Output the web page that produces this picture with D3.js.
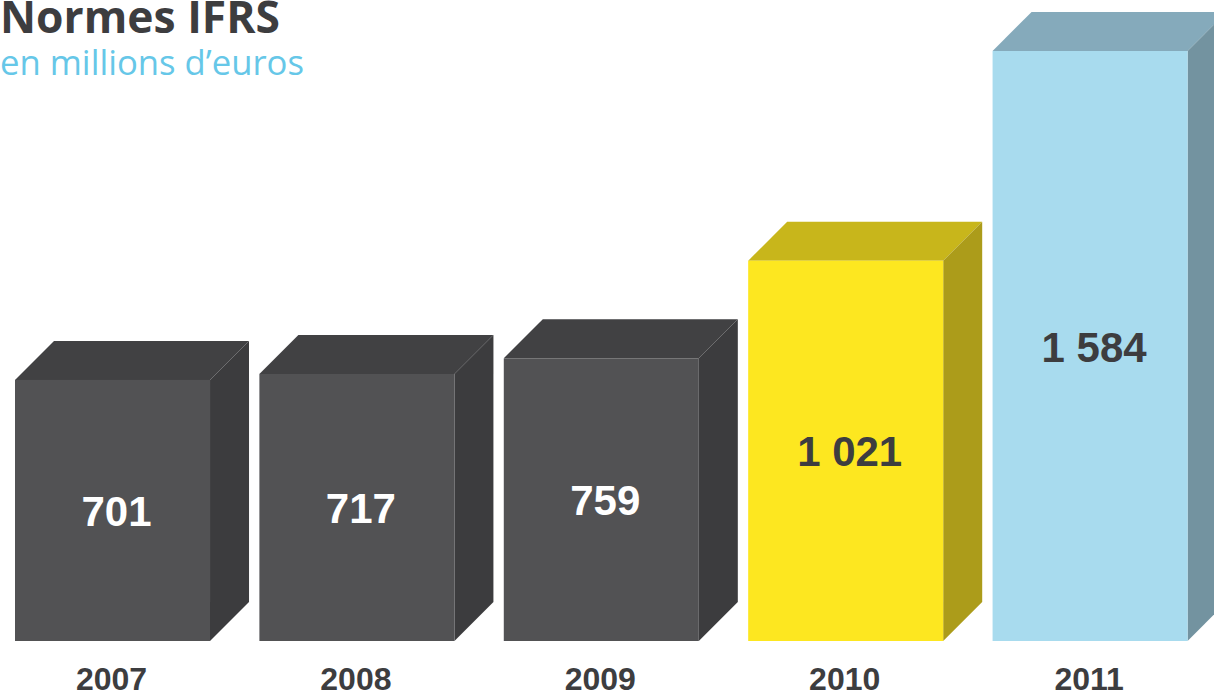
<!DOCTYPE html>
<html>
<head>
<meta charset="utf-8">
<title>Normes IFRS</title>
<script src="https://cdn.jsdelivr.net/npm/d3@7"></script>
<style>
html, body { margin: 0; padding: 0; background: #fff; overflow: hidden; }
svg { display: block; }
.value, .axis text { font-family: "Liberation Sans", sans-serif; font-weight: bold; }
</style>
</head>
<body>
<div id="chart"></div>
<script>
var years = ["2007", "2008", "2009", "2010", "2011"];
var values = [701, 717, 759, 1021, 1584];
var valueLabels = ["701", "717", "759", "1 021", "1 584"];

// front, top and side shade of each box
var fronts = ["#525254", "#525254", "#525254", "#fde720", "#a8dbee"];
var tops = ["#414143", "#414143", "#414143", "#c8b61b", "#85aabb"];
var sides = ["#3c3c3e", "#3c3c3e", "#3c3c3e", "#ac9c1a", "#7393a0"];
var labelColours = ["#ffffff", "#ffffff", "#ffffff", "#3d3d3f", "#3d3d3f"];

var width = 1214, height = 692;
var baseline = 641, depth = 39;

var svg = d3.select("#chart").append("svg")
	.attr("width", width)
	.attr("height", height);

var x = d3.scaleBand()
	.domain(years)
	.range([15, 1187.6])
	.paddingInner(0.202)
	.paddingOuter(0);

var y = d3.scaleLinear()
	.domain([0, 1584])
	.range([baseline, 51]);

var bars = svg.selectAll(".bar")
	.data(years)
	.enter().append("g")
	.attr("class", "bar");

// Top face
bars.append("path")
	.attr("fill", function (d, i) { return tops[i]; })
	.attr("d", function (d, i) {
		var x0 = x(d), x1 = x0 + x.bandwidth(), t = y(values[i]);
		return "M" + x0 + "," + t + "L" + (x0 + depth) + "," + (t - depth) +
			"L" + (x1 + depth) + "," + (t - depth) + "L" + x1 + "," + t + "Z";
	});

// Side face
bars.append("path")
	.attr("fill", function (d, i) { return sides[i]; })
	.attr("d", function (d, i) {
		var x1 = x(d) + x.bandwidth(), t = y(values[i]);
		return "M" + x1 + "," + t + "L" + (x1 + depth) + "," + (t - depth) +
			"L" + (x1 + depth) + "," + (baseline - depth) + "L" + x1 + "," + baseline + "Z";
	});

// Front face
bars.append("rect")
	.attr("fill", function (d, i) { return fronts[i]; })
	.attr("x", function (d) { return x(d); })
	.attr("y", function (d, i) { return y(values[i]); })
	.attr("width", x.bandwidth())
	.attr("height", function (d, i) { return baseline - y(values[i]); });

// Values
bars.append("text")
	.attr("class", "value")
	.attr("text-anchor", "middle")
	.attr("font-size", 42)
	.attr("fill", function (d, i) { return labelColours[i]; })
	.attr("x", function (d) { return x(d) + x.bandwidth() / 2 + 4; })
	.attr("y", function (d, i) { return (y(values[i]) + baseline) / 2 + 15.5; })
	.text(function (d, i) { return valueLabels[i]; });

// Years
var axis = svg.append("g")
	.attr("class", "axis")
	.attr("transform", "translate(-1," + baseline + ")")
	.call(d3.axisBottom(x).tickSize(0).tickPadding(26));
axis.select(".domain").remove();
axis.selectAll("text")
	.attr("font-size", 32)
	.attr("fill", "#3d3d3f");

// Titles
svg.append("text")
	.attr("x", 0)
	.attr("y", 33)
	.attr("font-family", "'Open Sans', sans-serif")
	.attr("font-weight", "bold")
	.attr("font-size", 44.4)
	.attr("fill", "#3d3d3f")
	.text("Normes IFRS");

svg.append("text")
	.attr("x", 0)
	.attr("y", 75)
	.attr("font-family", "'Open Sans', sans-serif")
	.attr("font-size", 34.7)
	.attr("fill", "#66c7e8")
	.text("en millions d’euros");
</script>
</body>
</html>
